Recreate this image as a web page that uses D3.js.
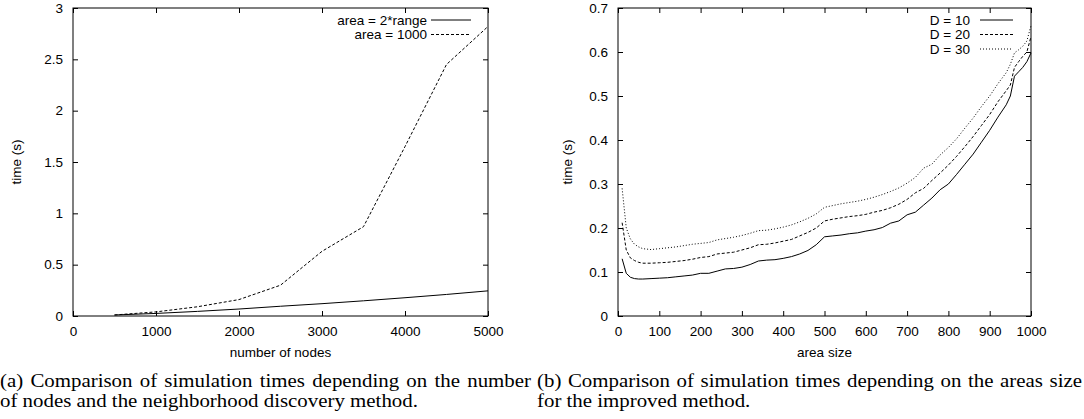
<!DOCTYPE html>
<html>
<head>
<meta charset="utf-8">
<script src="https://cdnjs.cloudflare.com/ajax/libs/d3/7.8.5/d3.min.js"></script>
<style>
  body { margin: 0; background: #fff; }
  svg { display: block; }
  .tick text, .lbl, .leg { font-family: "Liberation Sans", Arial, sans-serif; font-size: 13.5px; fill: #000; }
  .cap { font-family: "Liberation Serif", "Times New Roman", serif; font-size: 18px; fill: #000; }
</style>
</head>
<body>
<svg id="chart" width="1084" height="419"></svg>
<script>
// (a) simulation time vs number of nodes
var nodeCounts = [500, 1000, 1500, 2000, 2500, 3000, 3500, 4000, 4500, 5000];
var timeRange  = [0.010, 0.025, 0.045, 0.068, 0.095, 0.120, 0.148, 0.178, 0.210, 0.245];
var time1000   = [0.010, 0.040, 0.090, 0.160, 0.300, 0.630, 0.870, 1.650, 2.450, 2.820];
var seriesA = ["area = 2*range", "area = 1000"];

// (b) simulation time vs area size
var areaSizes = [10, 20, 30, 40, 50, 60, 80, 100, 120, 140, 160, 180, 200, 220, 240, 260, 280, 300,
  320, 340, 360, 380, 400, 420, 440, 460, 480, 500, 520, 540, 560, 580, 600, 620, 640, 660, 680, 700,
  720, 740, 760, 780, 800, 820, 840, 860, 880, 900, 920, 940, 950, 960, 970, 980, 990, 1000];
var timeD10 = [0.130, 0.097, 0.088, 0.085, 0.084, 0.084, 0.085, 0.086, 0.087, 0.089, 0.091, 0.093, 0.097, 0.097,
  0.102, 0.107, 0.108, 0.111, 0.117, 0.125, 0.127, 0.128, 0.131, 0.135, 0.141, 0.149, 0.162, 0.180, 0.182,
  0.184, 0.187, 0.189, 0.193, 0.196, 0.201, 0.211, 0.216, 0.230, 0.236, 0.252, 0.268, 0.287, 0.300, 0.322,
  0.345, 0.368, 0.395, 0.422, 0.452, 0.480, 0.500, 0.545, 0.555, 0.565, 0.578, 0.598];
var timeD20 = [0.212, 0.150, 0.132, 0.126, 0.122, 0.120, 0.120, 0.121, 0.122, 0.124, 0.126, 0.129, 0.133, 0.135,
  0.141, 0.143, 0.145, 0.150, 0.155, 0.162, 0.163, 0.166, 0.170, 0.174, 0.182, 0.190, 0.200, 0.216, 0.220,
  0.223, 0.226, 0.228, 0.231, 0.236, 0.240, 0.246, 0.254, 0.265, 0.280, 0.290, 0.308, 0.325, 0.343, 0.363,
  0.385, 0.408, 0.433, 0.458, 0.487, 0.512, 0.525, 0.565, 0.578, 0.590, 0.600, 0.635];
var timeD30 = [0.290, 0.200, 0.175, 0.163, 0.157, 0.153, 0.151, 0.153, 0.155, 0.157, 0.160, 0.163, 0.165, 0.167,
  0.173, 0.176, 0.179, 0.183, 0.188, 0.194, 0.195, 0.198, 0.202, 0.207, 0.214, 0.222, 0.232, 0.247, 0.251,
  0.255, 0.258, 0.261, 0.265, 0.270, 0.276, 0.283, 0.291, 0.302, 0.315, 0.336, 0.345, 0.366, 0.383, 0.403,
  0.427, 0.450, 0.476, 0.500, 0.528, 0.553, 0.572, 0.598, 0.605, 0.613, 0.625, 0.660];
var seriesB = ["D = 10", "D = 20", "D = 30"];

var ticksA_x = [0, 1000, 2000, 3000, 4000, 5000];
var ticksA_y = [0, 0.5, 1, 1.5, 2, 2.5, 3];
var ticksB_x = [0, 100, 200, 300, 400, 500, 600, 700, 800, 900, 1000];
var ticksB_y = [0, 0.1, 0.2, 0.3, 0.4, 0.5, 0.6, 0.7];

var captionA = ["(a) Comparison of simulation times depending on the number",
                "of nodes and the neighborhood discovery method."];
var captionB = ["(b) Comparison of simulation times depending on the areas size",
                "for the improved method."];

var dashes = ["none", "3,2", "1,2"];

var svg = d3.select("#chart");

function drawPanel(opt) {
    var x = d3.scaleLinear().domain(opt.xDomain).range([opt.left, opt.right]);
    var y = d3.scaleLinear().domain(opt.yDomain).range([opt.bottom, opt.top]);
    var g = svg.append("g");
    var tickLen = 5;

    g.append("g").attr("transform", "translate(0," + opt.bottom + ")")
        .call(d3.axisBottom(x).tickValues(opt.xTicks).tickSize(-tickLen).tickPadding(10).tickFormat(d3.format("")));
    g.append("g").attr("transform", "translate(0," + opt.top + ")")
        .call(d3.axisTop(x).tickValues(opt.xTicks).tickSize(-tickLen).tickFormat(""));
    g.append("g").attr("transform", "translate(" + opt.left + ",0)")
        .call(d3.axisLeft(y).tickValues(opt.yTicks).tickSize(-tickLen).tickPadding(10).tickFormat(d3.format("")));
    g.append("g").attr("transform", "translate(" + opt.right + ",0)")
        .call(d3.axisRight(y).tickValues(opt.yTicks).tickSize(-tickLen).tickFormat(""));
    g.selectAll(".domain").remove();
    g.selectAll(".tick line").attr("stroke", "#000");

    g.append("rect")
        .attr("x", opt.left).attr("y", opt.top)
        .attr("width", opt.right - opt.left).attr("height", opt.bottom - opt.top)
        .attr("fill", "none").attr("stroke", "#000");

    var line = d3.line()
        .x(function(d) { return x(d[0]); })
        .y(function(d) { return y(d[1]); });

    opt.series.forEach(function(vals, i) {
        var pts = opt.xs.map(function(v, j) { return [v, vals[j]]; });
        g.append("path")
            .datum(pts)
            .attr("d", line)
            .attr("fill", "none")
            .attr("stroke", "#000")
            .attr("stroke-width", 1)
            .attr("stroke-dasharray", dashes[i]);

        var ly = opt.legendY + i * 14.5;
        g.append("text").attr("class", "leg")
            .attr("x", opt.legendX).attr("y", ly)
            .attr("dy", "0.35em")
            .attr("text-anchor", "end")
            .text(opt.names[i]);
        g.append("line")
            .attr("x1", opt.legendX + opt.sampleGap).attr("x2", opt.legendX + opt.sampleGap + opt.sampleLen)
            .attr("y1", ly).attr("y2", ly)
            .attr("stroke", "#000")
            .attr("stroke-dasharray", dashes[i]);
    });

    g.append("text").attr("class", "lbl")
        .attr("transform", "translate(" + opt.yLabelX + "," + ((opt.top + opt.bottom) / 2) + ") rotate(-90)")
        .attr("text-anchor", "middle")
        .attr("dy", "0.35em")
        .text("time (s)");
    g.append("text").attr("class", "lbl")
        .attr("x", (opt.left + opt.right) / 2).attr("y", 357)
        .attr("text-anchor", "middle")
        .text(opt.xLabel);
}

drawPanel({
    left: 73, right: 488, top: 8, bottom: 316,
    xDomain: [0, 5000], yDomain: [0, 3],
    xTicks: ticksA_x, yTicks: ticksA_y,
    xs: nodeCounts, series: [timeRange, time1000], names: seriesA,
    legendX: 427, legendY: 20, sampleGap: 4, sampleLen: 40,
    yLabelX: 16, xLabel: "number of nodes"
});

drawPanel({
    left: 618, right: 1031, top: 8, bottom: 316,
    xDomain: [0, 1000], yDomain: [0, 0.7],
    xTicks: ticksB_x, yTicks: ticksB_y,
    xs: areaSizes, series: [timeD10, timeD20, timeD30], names: seriesB,
    legendX: 970, legendY: 20, sampleGap: 10, sampleLen: 33,
    yLabelX: 567, xLabel: "area size"
});

// justified two-line captions, glyphs a bit wider than tall like the scanned figure
var capStretch = 1.16;
function caption(lines, x0, x1) {
    lines.forEach(function(s, i) {
        var t = svg.append("text").attr("class", "cap")
            .attr("transform", "translate(" + x0 + "," + (387 + i * 20) + ") scale(" + capStretch + ",1)")
            .text(s);
        if (i === 0) {
            var w = t.node().getComputedTextLength();
            var gaps = s.split(" ").length - 1;
            t.attr("word-spacing", Math.max(0, ((x1 - x0) / capStretch - w) / gaps));
        }
    });
}
caption(captionA, 0, 531);
caption(captionB, 537, 1082);
</script>
</body>
</html>
